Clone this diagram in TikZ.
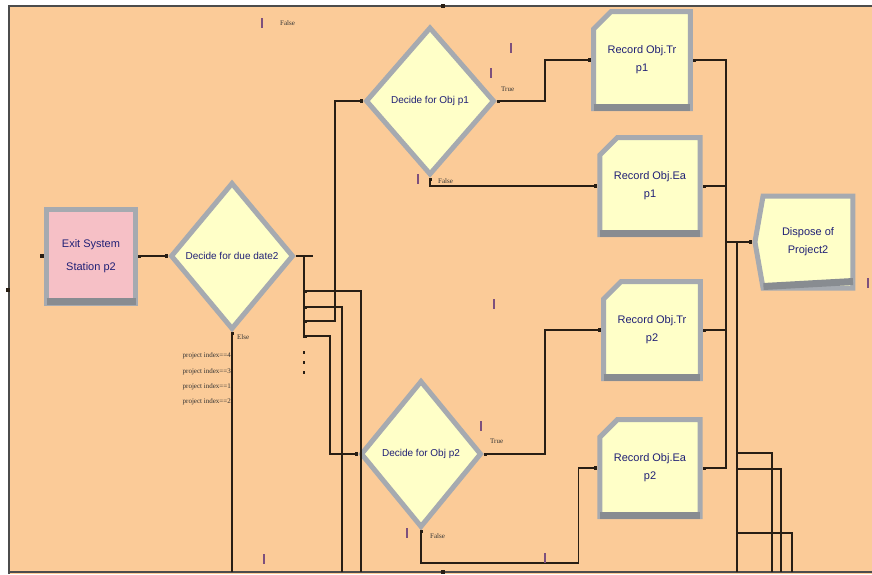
\documentclass[tikz,border=0pt]{standalone}
\usepackage{fontspec}
\setmainfont{Liberation Sans}
\newfontfamily\lblfont{Liberation Serif}
\usetikzlibrary{arrows.meta,calc,positioning,shapes.geometric,shapes.misc,shapes.symbols}
\definecolor{canvas}{RGB}{251,203,152}
\definecolor{cream}{RGB}{255,255,200}
\definecolor{rosy}{RGB}{246,192,198}
\definecolor{bevel}{RGB}{166,170,176}
\definecolor{beveldk}{RGB}{136,140,145}
\definecolor{inkblue}{RGB}{32,32,118}
\definecolor{wirec}{RGB}{40,30,20}
\definecolor{tick}{RGB}{125,80,125}
\tikzset{
  module/.style={draw=bevel,line width=5pt,inner sep=0pt,align=center,text=inkblue,
    font=\fontsize{11}{18}\selectfont},
  decide/.style={module,diamond,fill=cream,font=\fontsize{10}{12}\selectfont},
  record/.style={module,chamfered rectangle,chamfered rectangle corners=north west,
    chamfered rectangle xsep=14pt,fill=cream,minimum width=91pt,minimum height=97pt},
  station/.style={module,rectangle,fill=rosy},
  dispose/.style={module,signal,signal to=west,signal pointer angle=160,fill=cream},
  dkedge/.style={draw=beveldk,line width=7pt},
  wire/.style={draw=wirec,line width=1.6pt},
  conn/.style={wire,{Square[length=3pt,width=3pt]}-{Square[length=3.5pt,width=3.5pt]}},
  outport/.style={wire,{Square[length=3pt,width=3pt]}-},
  inport/.style={wire,-{Square[length=3.5pt,width=3.5pt]}},
  port/.style={fill=wirec,inner sep=0pt,minimum size=3.5pt},
  frame/.style={draw=black!70,line width=2.5pt},
  tag/.style={font=\lblfont\fontsize{7}{8}\selectfont,text=black!80,inner sep=0pt},
  animbar/.style={draw=tick,line width=1.3pt},
}
\begin{document}
\begin{tikzpicture}[x=1pt,y=-1pt]
\useasboundingbox (0,0) rectangle (872,574);
\fill[canvas] (8,5) rectangle (872,574);
\draw[frame] (9,574) -- (9,6) -- (872,6);
\draw[frame] (8,572) -- (872,572);
\fill[wirec] (8,290) +(-2,-2) rectangle +(2,2);
\fill[wirec] (443,6) +(-2,-2) rectangle +(2,2);
\fill[wirec] (443,572) +(-2,-2) rectangle +(2,2);

% modules
\node[station,minimum width=89pt,minimum height=94pt] (exit) at (91,256) {Exit System\\[5pt]Station p2};
\node[port,anchor=east] at (exit.west) {};
\node[decide,minimum width=123pt,minimum height=147pt] (dd) at (232,256) {Decide for due date2};
\node[decide,minimum width=129pt,minimum height=148pt] (dp1) at (430,101) {Decide for Obj p1};
\node[decide,minimum width=121pt,minimum height=147pt] (dp2) at (421,454) {Decide for Obj p2};
\node[record] (rt1) at (642,60) {Record Obj.Tr\\p1};
\node[record] (re1) at (650,186) {Record Obj.Ea\\p1};
\node[record] (rt2) at (652,330) {Record Obj.Tr\\p2};
\node[record] (re2) at (650,468) {Record Obj.Ea\\p2};
\node[dispose,minimum width=98pt,minimum height=92pt] (disp) at (808,242) {Dispose of\\Project2};
\foreach \n in {exit,rt1,re1,rt2,re2,disp}
  \draw[dkedge] ([shift={(2.5,-4)}]\n.south west) -- ([shift={(-2.5,-4)}]\n.south east);

% branch bus of the due date decision
\draw[conn] (exit.east) -- (dd.west);
\coordinate (bus) at ($(dd.east)+(8,0)$);
\coordinate (stub) at ($(dd.east)+(17,0)$);
\coordinate (low0) at (232,572);
\coordinate (low1) at (361,572);
\coordinate (low2) at (342,572);
\draw[wire] (dd.east) -- (stub);
\draw[wire] (bus) -- ($(bus)+(0,82)$);
\draw[outport] ($(bus)+(0,35)$) -| (low1);
\draw[outport] ($(bus)+(0,51)$) -| (low2);
\draw[conn] ($(bus)+(0,65)$) -| ($(dp1.west)+(-28,0)$) -- (dp1.west);
\draw[conn] ($(bus)+(0,80)$) -| ($(dp2.west)+(-28,0)$) -- (dp2.west);
\foreach \d in {95,105,115}
  \fill[wirec] ($(bus)+(-0.9,\d)$) rectangle ++(1.8,3);
\draw[outport] (dd.south) -- (low0);
\node[tag,anchor=west] at ($(dd.south)+(5,5)$) {Else};
\foreach \v [count=\i] in {4,3,1,2}
  \node[tag,anchor=east] at ($(dd.south)+(-1,9+15.3*\i)$) {project index==\v};

% true / false exits
\coordinate (up1) at ($(dp1.east)+(48,0)$);
\coordinate (up2) at ($(dp2.east)+(61,0)$);
\coordinate (dn2) at ($(dp2.south)+(0,33)$);
\draw[conn] (dp1.east) -- (up1) |- (rt1.west);
\draw[conn] (dp1.south) |- (re1.west);
\draw[conn] (dp2.east) -- (up2) |- (rt2.west);
\draw[conn] (dp2.south) -- (dn2) -| ($(re2.west)+(-19,0)$) -- (re2.west);
\node[tag,anchor=west] at ($(dp1.east)+(4,-12)$) {True};
\node[tag,anchor=west] at ($(dp1.south)+(8,4)$) {False};
\node[tag,anchor=west] at ($(dp2.east)+(6,-13)$) {True};
\node[tag,anchor=west] at ($(dp2.south)+(9,6)$) {False};
\node[tag,anchor=west] at (280,23) {False};

% records to dispose
\coordinate (jn) at (726,242);
\coordinate (jn2) at (737,242);
\coordinate (low3) at (772,572);
\coordinate (low4) at (781,572);
\coordinate (low5) at (792,572);
\draw[outport] (rt1.east) -| (jn);
\draw[outport] (re1.east) -| (jn);
\draw[outport] (rt2.east) -| (jn);
\draw[outport] (re2.east) -| (jn);
\draw[inport] (jn) -- (disp.west);
\draw[wire] (jn2) -- (jn2 |- low3);
\draw[wire] (jn2 |- 0,453) -| (low3);
\draw[wire] (jn2 |- 0,469) -| (low4);
\draw[wire] (jn2 |- 0,533) -| (low5);

% animation marks
\foreach \x/\y in {262/23,511/48,491/73,418/179,494/304,481/426,407/533,545/558,264/559,868/283}
  \draw[animbar] (\x,\y) ++(0,-5) -- ++(0,10);
\end{tikzpicture}
\end{document}
